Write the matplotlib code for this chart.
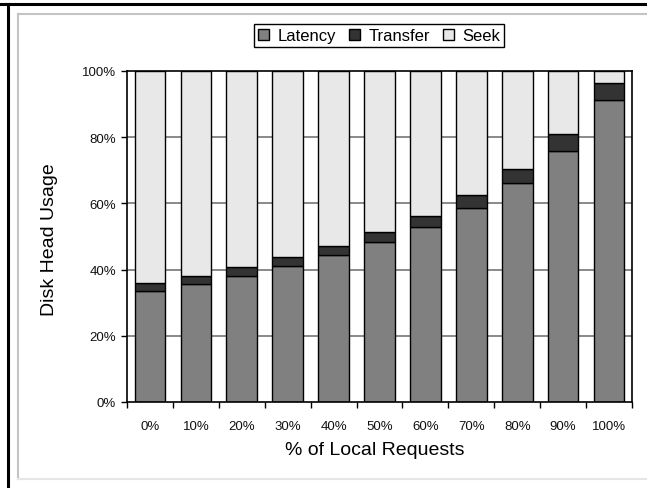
import matplotlib
matplotlib.use("Agg")
import matplotlib.pyplot as plt
from matplotlib.lines import Line2D
from matplotlib.patches import Patch
import numpy as np

plt.rcParams['font.family'] = ['Liberation Sans', 'DejaVu Sans']

categories = ["0%", "10%", "20%", "30%", "40%", "50%", "60%", "70%", "80%", "90%", "100%"]
latency = [33.6, 35.8, 38.2, 41.0, 44.3, 48.2, 52.9, 58.6, 66.2, 75.9, 91.1]
transfer = [2.3, 2.3, 2.5, 2.7, 2.7, 3.1, 3.2, 3.9, 4.2, 5.0, 5.3]
seek = [64.1, 61.9, 59.3, 56.3, 53.0, 48.7, 43.9, 37.5, 29.6, 19.1, 3.6]
series_names = ["Latency", "Transfer", "Seek"]
y_ticks = [0, 20, 40, 60, 80, 100]
y_tick_labels = ["0%", "20%", "40%", "60%", "80%", "100%"]

colors = ["#808080", "#333333", "#e8e8e8"]

W, H = 647, 489
fig = plt.figure(figsize=(W / 100, H / 100), dpi=100)
ax = fig.add_axes([127 / W, 1 - 403 / H, (632 - 127) / W, (403 - 72) / H])

x = np.arange(len(categories))
bw = 0.667
bottom = np.zeros(len(categories))
for vals, c in zip([latency, transfer, seek], colors):
    ax.bar(x, vals, bw, bottom=bottom, color=c, edgecolor="black", linewidth=1.0, zorder=3)
    bottom += np.array(vals)

ax.set_xlim(-0.5, len(categories) - 0.5)
ax.set_ylim(0, 100)
ax.set_yticks(y_ticks)
ax.set_yticklabels(y_tick_labels)
ax.set_xticks(x)
ax.set_xticklabels(categories)
ax.set_xticks(np.arange(-0.5, len(categories), 1.0), minor=True)
ax.tick_params(axis="x", which="major", length=0, pad=13, labelsize=9.5, labelcolor="#111111")
ax.tick_params(axis="x", which="minor", length=4, direction="out", width=1, color="black")
ax.tick_params(axis="y", which="major", length=4, direction="out", width=1, pad=4, labelsize=9.5,
               color="black", labelcolor="#111111")

for yv in y_ticks[1:-1]:
    ax.axhline(yv, color="#808080", linewidth=1.3, zorder=1)

for s in ax.spines.values():
    s.set_color("black")
    s.set_linewidth(1.2)
    s.set_zorder(4)

fig.text(50 / W, 1 - 240 / H, "Disk Head Usage", rotation=90, ha="center", va="center", fontsize=14)
fig.text(375 / W, 1 - 455 / H, "% of Local Requests", ha="center", va="baseline", fontsize=14)

handles = [Patch(facecolor=c, edgecolor="black", linewidth=1.0) for c in colors]
leg = fig.legend(handles, series_names, loc="center", bbox_to_anchor=(379 / W, 1 - 36.5 / H),
                 bbox_transform=fig.transFigure, ncol=3, frameon=True, fancybox=False,
                 framealpha=1, edgecolor="black", fontsize=12, handlelength=0.65,
                 handleheight=0.65, handletextpad=0.5, columnspacing=0.8, borderpad=0.25,
                 borderaxespad=0)
leg.get_frame().set_linewidth(1.0)

# outer frames
fig.add_artist(Line2D([0, 1], [1 - 5 / H, 1 - 5 / H], transform=fig.transFigure, color="black", linewidth=2.2))
fig.add_artist(Line2D([8 / W, 8 / W], [0, 1 - 5 / H], transform=fig.transFigure, color="black", linewidth=2.2))
fig.add_artist(Line2D([17.5 / W, 1], [1 - 15 / H, 1 - 15 / H], transform=fig.transFigure, color="#c4c4c4", linewidth=1.5))
fig.add_artist(Line2D([17.5 / W, 17.5 / W], [1 - 480 / H, 1 - 15 / H], transform=fig.transFigure, color="#c4c4c4", linewidth=1.5))
fig.add_artist(Line2D([17.5 / W, 1], [1 - 480 / H, 1 - 480 / H], transform=fig.transFigure, color="#e6e6e6", linewidth=1.5))

fig.savefig("out.png", dpi=100)
